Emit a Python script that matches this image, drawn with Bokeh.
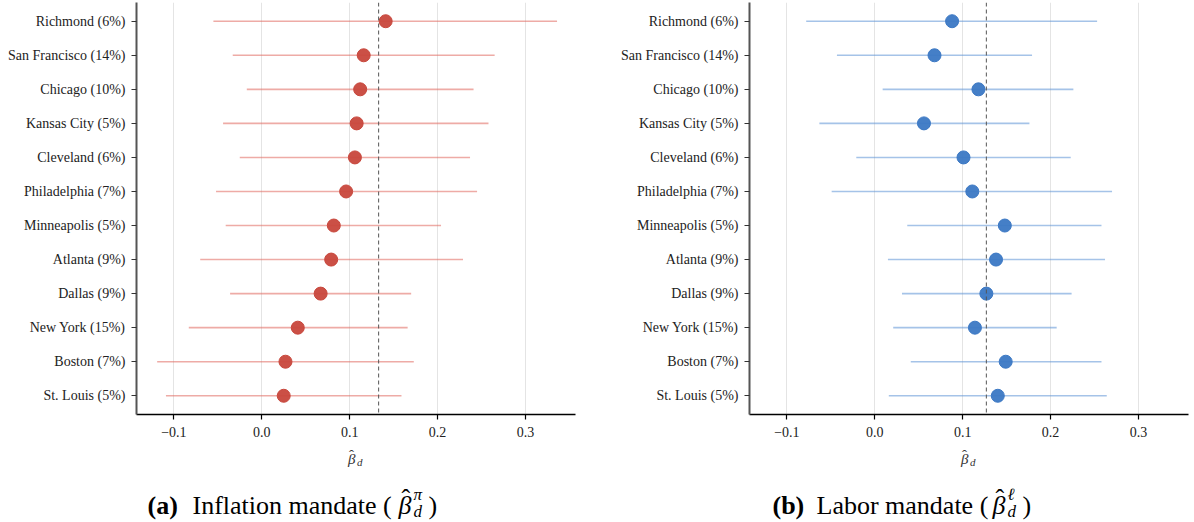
from bokeh.plotting import figure
from bokeh.layouts import column, row
from bokeh.models import (Range1d, FixedTicker, CustomJSTickFormatter, Span,
                          Label, ColumnDataSource)
from bokeh.embed import file_html
from bokeh.resources import INLINE

# District labels (share of weight in parentheses), top to bottom
districts = ["Richmond (6%)", "San Francisco (14%)", "Chicago (10%)",
             "Kansas City (5%)", "Cleveland (6%)", "Philadelphia (7%)",
             "Minneapolis (5%)", "Atlanta (9%)", "Dallas (9%)",
             "New York (15%)", "Boston (7%)", "St. Louis (5%)"]

# Inflation mandate: point estimates and interval bounds
infl_est = [0.141, 0.116, 0.112, 0.108, 0.106, 0.096, 0.082, 0.079, 0.067, 0.041, 0.027, 0.025]
infl_lo = [-0.055, -0.033, -0.017, -0.044, -0.025, -0.052, -0.041, -0.070, -0.036, -0.083, -0.119, -0.109]
infl_hi = [0.336, 0.265, 0.241, 0.258, 0.237, 0.245, 0.204, 0.229, 0.170, 0.166, 0.173, 0.159]
infl_ref = 0.133

# Labor mandate: point estimates and interval bounds
labor_est = [0.088, 0.068, 0.118, 0.056, 0.101, 0.111, 0.148, 0.138, 0.127, 0.114, 0.149, 0.140]
labor_lo = [-0.078, -0.043, 0.009, -0.063, -0.021, -0.049, 0.037, 0.015, 0.031, 0.021, 0.041, 0.016]
labor_hi = [0.253, 0.179, 0.226, 0.176, 0.223, 0.270, 0.258, 0.262, 0.224, 0.207, 0.258, 0.264]
labor_ref = 0.127

x_ticks = [-0.1, 0.0, 0.1, 0.2, 0.3]

SERIF = "Liberation Serif"
FIG_W = 597
PLOT_H = 446          # frame plus tick labels
CAP_H = 522 - PLOT_H  # strip holding the axis label and the caption


def panel(est, lo, hi, ref, dot_color, bar_color, border_left, border_right):
    n = len(districts)
    ys = [n - 1 - i for i in range(n)]
    src = ColumnDataSource(dict(y=ys, est=est, lo=lo, hi=hi))

    p = figure(width=FIG_W, height=PLOT_H, output_backend="svg", toolbar_location=None,
               x_range=Range1d(-0.1425, 0.357), y_range=Range1d(-0.55, n - 1 + 0.55),
               min_border_left=border_left, min_border_right=border_right,
               min_border_top=2, min_border_bottom=32)
    p.outline_line_color = None
    p.background_fill_color = "white"
    p.border_fill_color = "white"

    p.ygrid.visible = False
    p.xgrid.grid_line_color = "#e4e4e4"
    p.xgrid.grid_line_width = 1
    p.xgrid.ticker = FixedTicker(ticks=x_ticks)

    p.segment(x0="lo", y0="y", x1="hi", y1="y", source=src,
              line_color=bar_color, line_alpha=0.55, line_width=1.6)
    p.add_layout(Span(location=ref, dimension="height", line_color="#555555",
                      line_width=1, line_dash="4 3"))
    p.scatter(x="est", y="y", source=src, size=13, fill_color=dot_color,
              line_color=dot_color, fill_alpha=0.95)

    xa = p.xaxis[0]
    xa.ticker = FixedTicker(ticks=x_ticks)
    xa.formatter = CustomJSTickFormatter(
        code="return (tick < -1e-9 ? '\u2212' : '') + Math.abs(tick).toFixed(1);")
    xa.minor_tick_line_color = None
    xa.major_tick_out = 5
    xa.major_tick_in = 0
    xa.axis_line_color = "black"
    xa.axis_line_width = 1.5
    xa.major_tick_line_color = "black"
    xa.major_tick_line_width = 1.2
    xa.major_label_text_font = SERIF
    xa.major_label_text_font_size = "14px"
    xa.major_label_text_color = "#222222"
    xa.major_label_standoff = 7

    ya = p.yaxis[0]
    ya.ticker = FixedTicker(ticks=ys)
    ya.major_label_overrides = {y: districts[i] for i, y in enumerate(ys)}
    ya.minor_tick_line_color = None
    ya.major_tick_out = 5
    ya.major_tick_in = 0
    ya.axis_line_color = "#555555"
    ya.axis_line_width = 2
    ya.major_tick_line_color = "#333333"
    ya.major_tick_line_width = 1.2
    ya.major_label_text_font = SERIF
    ya.major_label_text_font_size = "14px"
    ya.major_label_text_color = "#222222"
    ya.major_label_standoff = 6
    return p


def add_text(c, x, y, text, size, style="normal", color="black"):
    c.add_layout(Label(x=x, y=y, text=text, text_font=SERIF, text_font_size=size,
                       text_font_style=style, text_color=color,
                       text_baseline="alphabetic", text_align="left"))


def beta_hat(c, x, y, size, hat_dy, hat_dx, color):
    add_text(c, x, y, "\u03b2", f"{size}px", "italic", color)
    add_text(c, x + hat_dx, y - hat_dy, "\u02c6", f"{size}px", "normal", color)


def caption(axis_cx, tag, title, sup, cap_x, offset):
    # strip in pixel coordinates, y growing downward
    c = figure(width=FIG_W, height=CAP_H, output_backend="svg", toolbar_location=None,
               x_range=Range1d(0, FIG_W), y_range=Range1d(CAP_H, 0),
               min_border=0, min_border_left=0, min_border_right=0,
               min_border_top=0, min_border_bottom=0)
    c.axis.visible = False
    c.grid.visible = False
    c.outline_line_color = None
    c.background_fill_color = "white"
    c.border_fill_color = "white"

    # x-axis label: beta-hat with subscript d
    beta_hat(c, axis_cx - 8, 12, 15, 4, 1, "#333333")
    add_text(c, axis_cx + 1, 15, "d", "11px", "italic", "#333333")

    tag_x, title_x, beta_x, script_x, close_x = [v - offset for v in cap_x]
    base = 59
    add_text(c, tag_x, base, tag, "26px", "bold")
    add_text(c, title_x, base, title + " (", "26px")
    beta_hat(c, beta_x, base, 26, 7, 3, "black")
    add_text(c, script_x, base - 11, sup, "17px", "italic")
    add_text(c, script_x, base + 6, "d", "17px", "italic")
    add_text(c, close_x, base, ")", "26px")
    return c


left = panel(infl_est, infl_lo, infl_hi, infl_ref, "#c8473c", "#e0665c", 136, 22)
right = panel(labor_est, labor_lo, labor_hi, labor_ref, "#3b78c4", "#5b92d6", 152, 6)

cap_left = caption(136 + 439 / 2, "(a)", "Inflation mandate", "\u03c0",
                   [147, 192, 398, 413, 428], 0)
cap_right = caption(152 + 439 / 2, "(b)", "Labor mandate", "\u2113",
                    [772, 816, 992, 1007, 1022], 597)

layout = column(row(left, right, spacing=0), row(cap_left, cap_right, spacing=0),
                spacing=0)
open("out.html", "w").write(file_html(layout, INLINE))
